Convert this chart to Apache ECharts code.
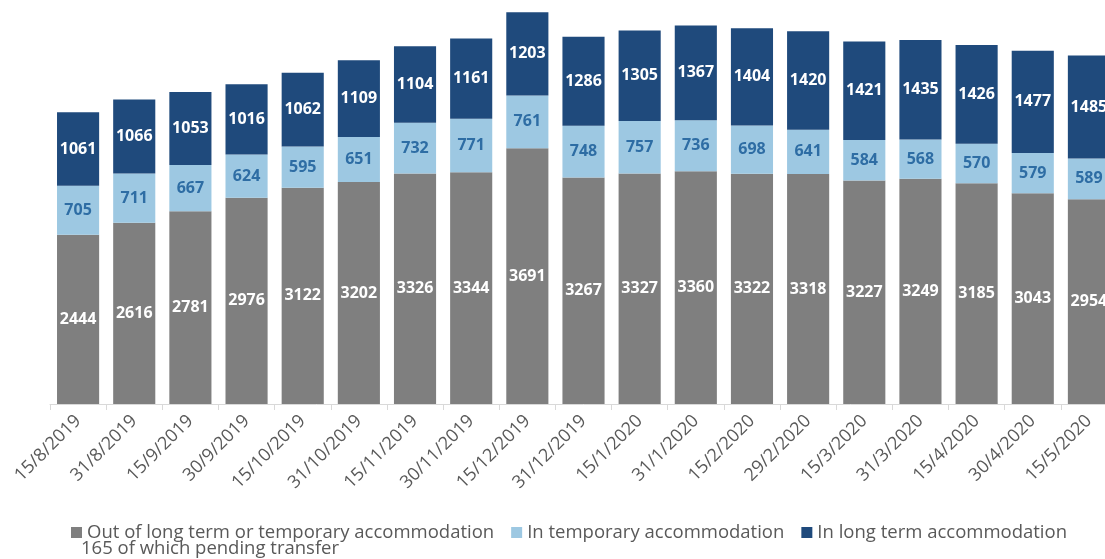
<!DOCTYPE html>
<html>
<head>
<meta charset="utf-8">
<script src="https://cdn.jsdelivr.net/npm/echarts@6/dist/echarts.min.js"></script>
<style>
  html, body { margin: 0; padding: 0; background: #fff; overflow: hidden; }
  #chart { width: 1125px; height: 559px; }
</style>
</head>
<body>
<div id="chart"></div>
<script>
// dates on the x axis
var dates = ['15/8/2019', '31/8/2019', '15/9/2019', '30/9/2019', '15/10/2019', '31/10/2019',
  '15/11/2019', '30/11/2019', '15/12/2019', '31/12/2019', '15/1/2020', '31/1/2020',
  '15/2/2020', '29/2/2020', '15/3/2020', '31/3/2020', '15/4/2020', '30/4/2020', '15/5/2020'];
// out of long term or temporary accommodation
var outside = [2444, 2616, 2781, 2976, 3122, 3202, 3326, 3344, 3691, 3267, 3327, 3360, 3322, 3318, 3227, 3249, 3185, 3043, 2954];
// in temporary accommodation
var temporary = [705, 711, 667, 624, 595, 651, 732, 771, 761, 748, 757, 736, 698, 641, 584, 568, 570, 579, 589];
// in long term accommodation
var longTerm = [1061, 1066, 1053, 1016, 1062, 1109, 1104, 1161, 1203, 1286, 1305, 1367, 1404, 1420, 1421, 1435, 1426, 1477, 1485];

var seriesNames = ['Out of long term or temporary accommodation', 'In temporary accommodation', 'In long term accommodation'];

var font = '"Open Sans", sans-serif';
var chart = echarts.init(document.getElementById('chart'));

function barLabel(color) {
  return {
    show: true,
    position: 'inside',
    color: color,
    fontFamily: font,
    fontWeight: 'bold',
    fontSize: 16
  };
}

var option = {
  animation: false,
  backgroundColor: '#fff',
  // plot runs a little past the right edge of the picture, as in the source
  grid: {
    left: 50,
    top: 0,
    width: 1067,
    height: 404
  },
  legend: {
    left: 66,
    top: 518,
    itemWidth: 11,
    itemHeight: 11,
    itemGap: 17,
    icon: 'rect',
    textStyle: {
      color: '#595959',
      fontFamily: font,
      fontSize: 18.5
    },
    data: seriesNames
  },
  graphic: [{
    type: 'text',
    left: 81,
    top: 539,
    style: {
      text: '165 of which pending transfer',
      fill: '#595959',
      font: '18.5px "Open Sans", sans-serif'
    }
  }],
  xAxis: {
    type: 'category',
    data: dates,
    axisLine: { lineStyle: { color: '#D9D9D9', width: 1 } },
    axisTick: { show: true, length: 6, lineStyle: { color: '#D9D9D9' } },
    axisLabel: {
      rotate: 45,
      interval: 0,
      margin: 14,
      color: '#595959',
      fontFamily: font,
      fontSize: 18
    }
  },
  yAxis: {
    type: 'value',
    min: 0,
    max: 5830,
    show: false,
    splitLine: { show: false }
  },
  series: [{
    name: seriesNames[0],
    type: 'bar',
    stack: 'total',
    barCategoryGap: '25%',
    itemStyle: { color: '#7F7F7F' },
    label: barLabel('#ffffff'),
    data: outside
  }, {
    name: seriesNames[1],
    type: 'bar',
    stack: 'total',
    itemStyle: { color: '#9DC8E2' },
    label: barLabel('#2E6DA4'),
    data: temporary
  }, {
    name: seriesNames[2],
    type: 'bar',
    stack: 'total',
    itemStyle: { color: '#1F4A7C' },
    label: barLabel('#ffffff'),
    data: longTerm
  }]
};

chart.setOption(option);
</script>
</body>
</html>
